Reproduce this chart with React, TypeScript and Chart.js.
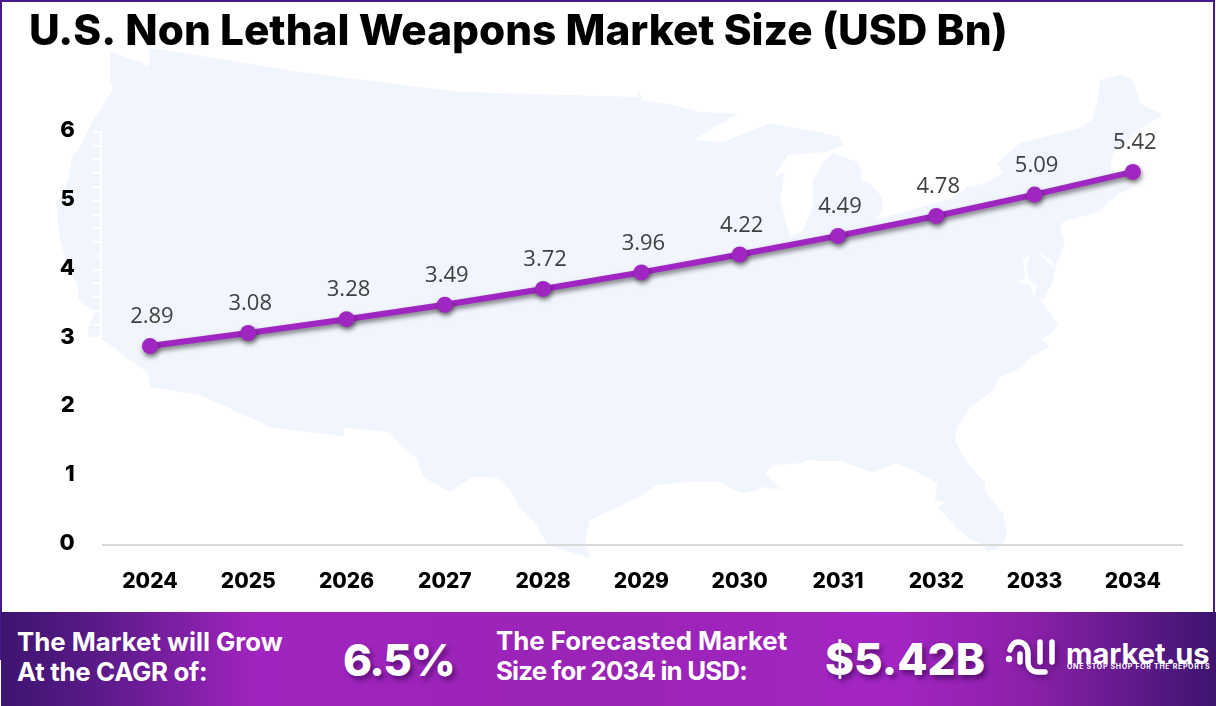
import React, { useEffect, useRef } from "react";
import { Chart, registerables } from "chart.js";

Chart.register(...registerables);

const categories = ["2024", "2025", "2026", "2027", "2028", "2029", "2030", "2031", "2032", "2033", "2034"];
const marketSize = [2.89, 3.08, 3.28, 3.49, 3.72, 3.96, 4.22, 4.49, 4.78, 5.09, 5.42];
const valueLabels = ["2.89", "3.08", "3.28", "3.49", "3.72", "3.96", "4.22", "4.49", "4.78", "5.09", "5.42"];
const titleText = "U.S. Non Lethal Weapons Market Size (USD Bn)";

const mapOutline =
  "110,52 140,62 148,67 150,60 149,48 152,48 300,72 460,92 637,97 638,89 643,100 673,105 700,112 737,114 693,140 723,142 753,130 770,123 823,133 840,137 843,145 827,152 788,155 773,178 785,172 780,200 790,237 803,230 813,207 813,180 823,163 833,153 857,162 862,172 860,180 870,183 882,197 883,210 875,220 953,198 967,187 987,183 1003,172 997,163 1020,143 1080,128 1092,120 1097,103 1100,80 1120,75 1133,80 1140,103 1163,115 1148,123 1113,153 1110,168 1133,187 1120,193 1097,212 1063,222 1060,228 1065,243 1057,262 1053,280 1045,298 1040,300 1050,313 1058,324 1050,335 1040,338 1050,347 1033,355 1017,370 1000,377 993,390 970,408 957,427 955,440 967,463 985,483 985,492 1003,513 1007,533 1002,547 987,552 983,545 967,537 957,528 938,508 945,502 935,500 937,483 927,477 897,463 872,472 840,461 820,461 807,460 803,463 773,465 765,473 773,482 783,490 760,487 757,490 743,493 733,490 723,482 687,482 657,485 637,498 590,520 585,540 590,558 570,552 547,545 538,527 520,508 510,490 497,478 473,477 460,485 450,492 423,477 418,460 387,432 345,428 343,436 273,428 200,395 150,387 148,373 130,360 117,350 103,340 88,337 88,328 95,312 78,300 78,285 70,273 60,240 58,225 57,205 68,180 70,167 72,157 80,147 93,120 108,98 113,90 110,82";
const chesapeake = "1023,258 1030,256 1026,268 1030,280 1037,286 1034,298 1030,285 1017,282 1025,278";
const delawareBay = "1037,252 1052,260 1054,268 1045,260";

const lineShadow = {
  id: "lineShadow",
  beforeDatasetsDraw(chart: any) {
    const c = chart.ctx;
    c.save();
    c.shadowColor = "rgba(0,0,0,0.5)";
    c.shadowBlur = 5;
    c.shadowOffsetX = 1;
    c.shadowOffsetY = 3;
  },
  afterDatasetsDraw(chart: any) {
    chart.ctx.restore();
  },
};

const valueLabelPlugin = {
  id: "valueLabels",
  afterDraw(chart: any) {
    const c = chart.ctx;
    const points = chart.getDatasetMeta(0).data;
    c.save();
    c.font = '22px "Open Sans"';
    c.fillStyle = "#404040";
    c.textAlign = "center";
    c.textBaseline = "middle";
    points.forEach((p: any, i: number) => {
      c.fillText(valueLabels[i], p.x + 2, p.y - 29);
    });
    c.restore();
  },
};

export default function App() {
  const ref = useRef<HTMLCanvasElement | null>(null);

  useEffect(() => {
    document.body.style.margin = "0";
    const chart = new Chart(ref.current as HTMLCanvasElement, {
      type: "line",
      data: {
        labels: categories,
        datasets: [
          {
            data: marketSize,
            borderColor: "#A026C2",
            backgroundColor: "#A026C2",
            borderWidth: 6,
            pointRadius: 8,
            pointHoverRadius: 8,
            pointBackgroundColor: "#A026C2",
            pointBorderWidth: 0,
            tension: 0,
            fill: false,
          },
        ],
      },
      options: {
        responsive: false,
        animation: false,
        layout: { padding: { left: 29, right: 34, top: 0, bottom: 0 } },
        plugins: {
          legend: { display: false },
          tooltip: { enabled: false },
          title: {
            display: true,
            text: titleText,
            align: "start",
            color: "#000000",
            font: { family: "Inter", size: 42.3, weight: "800", lineHeight: 1.2 },
            padding: { top: 7, bottom: 74.2 },
          },
        },
        scales: {
          x: {
            offset: true,
            grid: { display: false },
            border: { color: "#D9D9D9", width: 2 },
            ticks: {
              color: "#000000",
              font: { family: "Inter", size: 21, weight: "800" },
              padding: 16,
              maxRotation: 0,
            },
            afterFit(scale: any) {
              scale.height = 161;
            },
          },
          y: {
            min: 0,
            max: 6,
            grid: { display: true, drawOnChartArea: false, color: "#FFFFFF", lineWidth: 2, tickLength: 8 },
            border: { color: "#FFFFFF", width: 2 },
            ticks: {
              stepSize: 0.2,
              autoSkip: false,
              color: "#000000",
              font: { family: "Inter", size: 22, weight: "800" },
              padding: 18,
              labelOffset: -1.5,
              callback(v: any) {
                const r = Math.round(Number(v));
                return Math.abs(Number(v) - r) < 1e-6 ? String(r) : "";
              },
            },
            afterFit(scale: any) {
              scale.width = 71.8;
            },
          },
        },
      },
      plugins: [lineShadow, valueLabelPlugin],
    } as any);
    return () => chart.destroy();
  }, []);

  const txt: React.CSSProperties = {
    position: "absolute",
    color: "#FFFFFF",
    fontFamily: "Inter",
    fontWeight: 700,
    fontSize: 25.8,
    lineHeight: "30px",
    whiteSpace: "nowrap",
  };
  const big: React.CSSProperties = {
    ...txt,
    fontWeight: 800,
    fontSize: 44,
    lineHeight: "50px",
    textShadow: "3px 4px 5px rgba(40,0,70,0.55)",
  };

  return (
    <div style={{ position: "relative", width: 1216, height: 706, overflow: "hidden", background: "#FFFFFF" }}>
      <svg width={1216} height={706} style={{ position: "absolute", left: 0, top: 0, filter: "blur(0.6px)" }}>
        <polygon points={mapOutline} fill="#F1F5FD" />
        <polygon points={chesapeake} fill="#FFFFFF" />
        <polygon points={delawareBay} fill="#FFFFFF" />
      </svg>
      <canvas ref={ref} width={1216} height={706} style={{ position: "absolute", left: 0, top: 0, display: "block" }} />
      <div style={{ position: "absolute", left: 0, top: 0, width: 1215, height: 2, background: "#4A1A8C" }} />
      <div style={{ position: "absolute", left: 0, top: 0, width: 2, height: 660, background: "#4A1A8C" }} />
      <div style={{ position: "absolute", left: 1213, top: 0, width: 2, height: 612, background: "#4A1A8C" }} />
      <div
        style={{
          position: "absolute",
          left: 1,
          top: 612,
          width: 1215,
          height: 94,
          background:
            "linear-gradient(90deg,#3D1470 0%,#5A1A88 8%,#A024BF 21%,#9A24B6 50%,#A425C3 73%,#8A20A8 85%,#3D1470 100%)",
        }}
      />
      <div style={{ ...txt, left: 17, top: 627 }}>
        The Market will Grow
        <br />
        <span style={{ letterSpacing: "-0.3px" }}>At the CAGR of:</span>
      </div>
      <div style={{ ...big, left: 343, top: 635, letterSpacing: "-1.5px" }}>6.5%</div>
      <div style={{ ...txt, left: 496, top: 626 }}>
        The Forecasted Market
        <br />
        <span style={{ letterSpacing: "-0.8px" }}>Size for 2034 in USD:</span>
      </div>
      <div style={{ ...big, left: 825, top: 634 }}>$5.42B</div>
      <svg width={60} height={46} style={{ position: "absolute", left: 1000, top: 630, overflow: "visible" }}>
        <g fill="none" stroke="#FFFFFF" strokeWidth={5.5} strokeLinecap="round" style={{ filter: "drop-shadow(2px 3px 3px rgba(40,0,70,0.5))" }}>
          <path d="M10 20 C12 14 15 12 18 12 C24 12 28 16 28 24 L28 32 C28 39 33 42 38 42 L45 42" />
          <path d="M20 24 L20 32" />
          <path d="M40 12 L40 32" />
          <path d="M52 12 L52 32" />
        </g>
        <circle cx={9} cy={29} r={3.2} fill="#FFFFFF" />
      </svg>
      <div style={{ ...txt, left: 1066, top: 636, fontSize: 29, lineHeight: "36px", fontWeight: 700 }}>market.us</div>
      <div style={{ ...txt, left: 1067, top: 661, fontSize: 7, lineHeight: "12px", letterSpacing: "0.7px", fontWeight: 700 }}>
        ONE STOP SHOP FOR THE REPORTS
      </div>
    </div>
  );
}
